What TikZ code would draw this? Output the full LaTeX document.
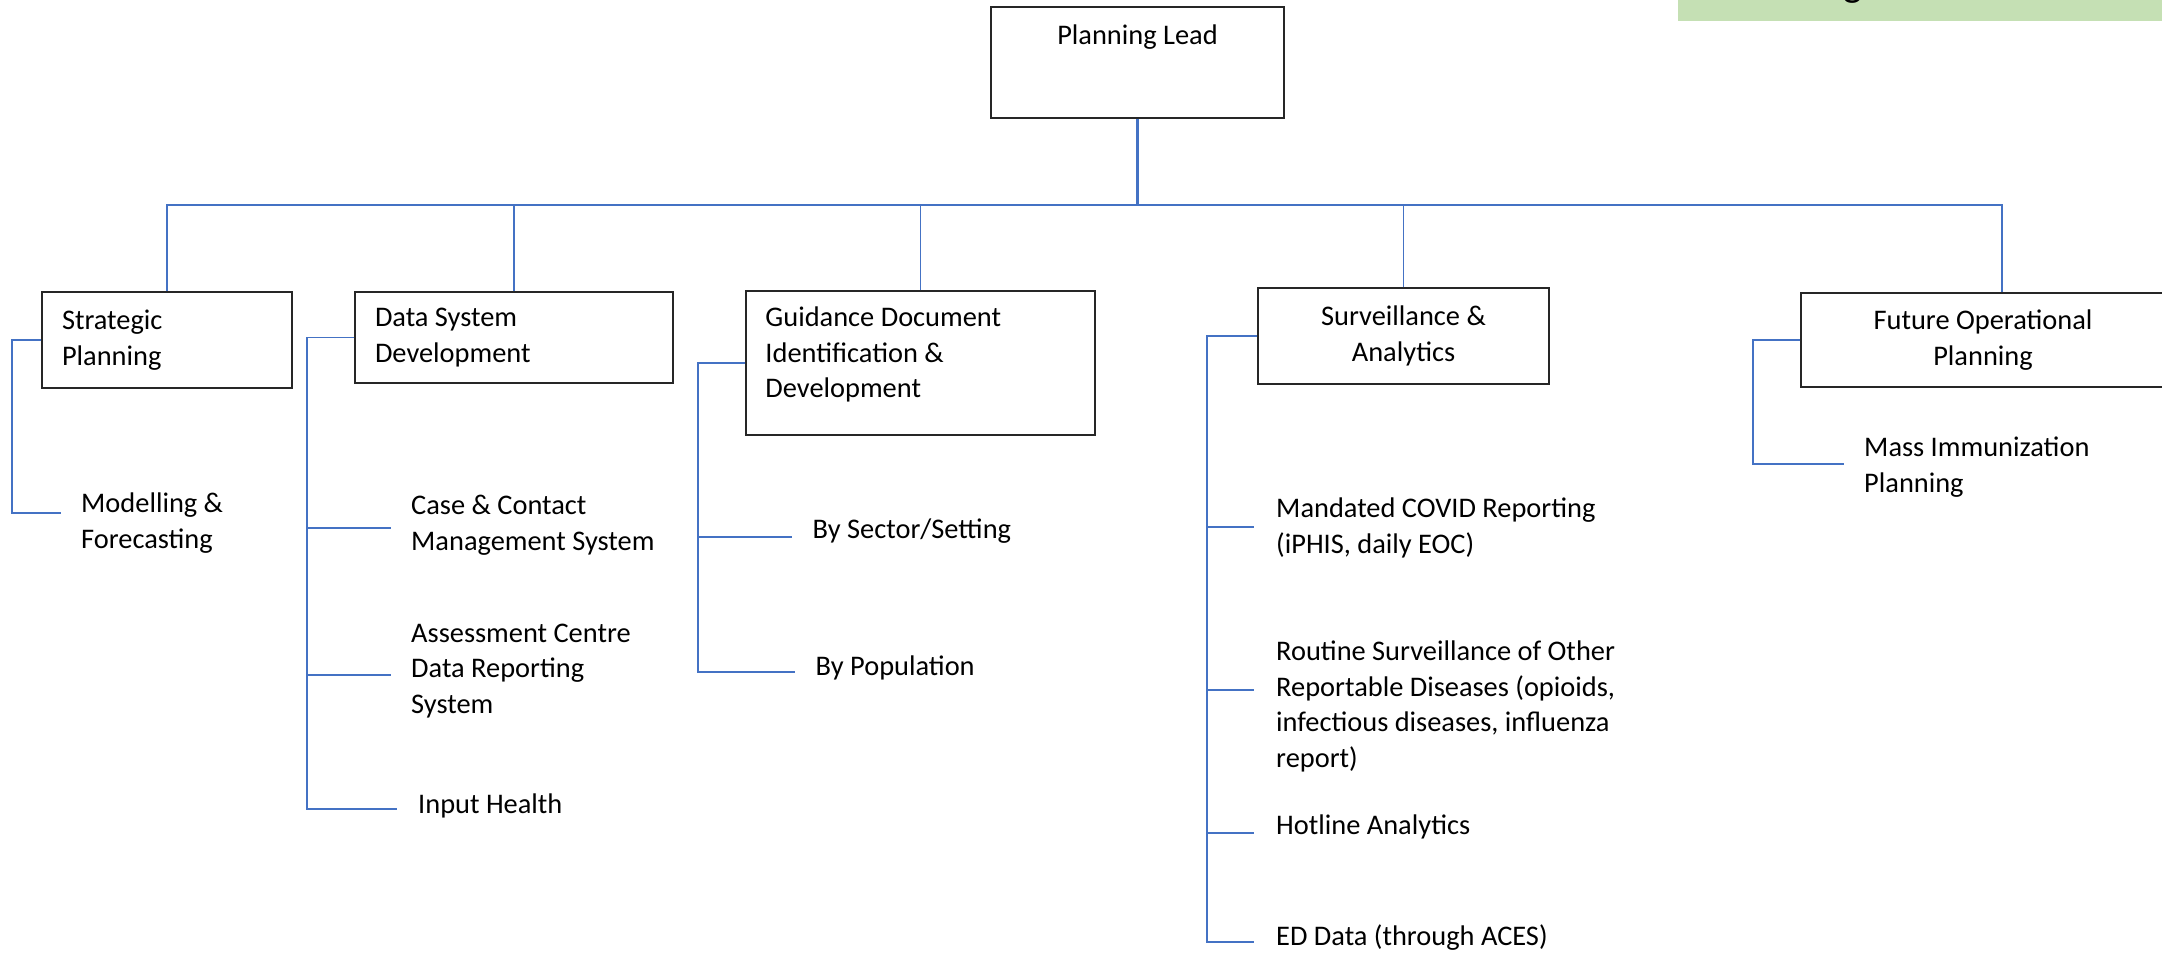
\documentclass[tikz,border=0pt]{standalone}
\usepackage{fontspec}
\setmainfont{Carlito}
\usepackage{xcolor}
\usepackage{tikz}
\usetikzlibrary{positioning,calc}
\definecolor{link-blue}{RGB}{68,114,196}
\definecolor{note-green}{RGB}{197,224,180}

\begin{document}
\begin{tikzpicture}[
    x=1pt, y=-1pt,
    font=\fontsize{28.4}{35.5}\selectfont,
    box/.style={rectangle, draw=black!85, line width=1.5pt, fill=white, inner xsep=20pt, inner ysep=0pt, align=flush left},
    centerbox/.style={box, align=flush center},
    leaf/.style={anchor=base west, align=left, inner sep=0pt},
    link/.style={draw=link-blue, line width=1.6pt},
    lead-link/.style={draw=link-blue, line width=2.7pt}
]
\useasboundingbox (0,0) rectangle (2162,953);
\clip (0,0) rectangle (2162,953);

% Header strip
\node[rectangle, fill=note-green, minimum width=500, minimum height=21, anchor=north west, inner sep=0] (header) at (1678,0) {};
\node[anchor=base, font=\fontsize{40}{48}\selectfont, inner sep=0] (header-text) at (1853,-3) {g};

% Top
\node[box, minimum width=293, minimum height=111] (lead) at (1137.5,62.5) {};
\node[anchor=base, inner sep=0] (lead-title) at ([yshift=-38pt]lead.north) {Planning Lead};

% Second level
\node[box, text width=210, minimum height=96] (strat) at (167,340) {Strategic\\Planning};
\node[box, text width=278, minimum height=91] (dsd) at (514,337.5) {Data System\\Development};
\node[box, minimum width=349, minimum height=144] (guide) at (920.5,363) {};
\node[leaf] (guide-text) at ([xshift=20pt, yshift=-107.3pt]guide.north west) {Guidance Document\\Identification \&\\Development};
\node[centerbox, text width=251, minimum height=96] (surv) at (1403.5,336) {Surveillance \&\\Analytics};
\node[centerbox, text width=324, minimum height=94] (future) at (1983,340) {Future Operational\\Planning};

% Bus
\coordinate (bus) at (1137.5,205);
\draw[lead-link] (lead.south) -- (bus);
\draw[link] (strat.north) |- (bus);
\draw[link] (dsd.north) -- (dsd.north |- bus);
\draw[link] (guide.north) -- (guide.north |- bus);
\draw[link] (surv.north) -- (surv.north |- bus);
\draw[link] ([xshift=19pt]future.north) |- (bus);

% Strategic Planning
\node[leaf] (model) at (81,548) {Modelling \&\\Forecasting};
\coordinate (strat-spine) at (12,513);
\coordinate (model-end) at (61,513);
\draw[link] (strat.west) -| (strat-spine) -- (model-end);

% Data System Development
\node[leaf] (case) at (411,550) {Case \& Contact\\Management System};
\node[leaf] (assess) at (411,713) {Assessment Centre\\Data Reporting\\System};
\node[leaf] (input) at (418,813) {Input Health};
\coordinate (dsd-spine) at (307,809);
\coordinate (case-end) at (391,528);
\coordinate (assess-end) at (391,675);
\coordinate (input-end) at (397,809);
\draw[link] (dsd.west) -| (dsd-spine) -- (input-end);
\draw[link] (case-end -| dsd-spine) -- (case-end);
\draw[link] (assess-end -| dsd-spine) -- (assess-end);

% Guidance Document
\node[leaf] (sector) at (812.5,538) {By Sector/Setting};
\node[leaf] (popn) at (815.5,675) {By Population};
\coordinate (guide-spine) at (698,672);
\coordinate (sector-end) at (792,537);
\coordinate (popn-end) at (795,672);
\draw[link] (guide.west) -| (guide-spine) -- (popn-end);
\draw[link] (sector-end -| guide-spine) -- (sector-end);

% Surveillance & Analytics
\node[leaf] (mandated) at (1276,553) {Mandated COVID Reporting\\(iPHIS, daily EOC)};
\node[leaf] (routine) at (1276,767) {Routine Surveillance of Other\\Reportable Diseases (opioids,\\infectious diseases, influenza\\report)};
\node[leaf] (hotline) at (1276,834) {Hotline Analytics};
\node[leaf] (ed) at (1276,945) {ED Data (through ACES)};
\coordinate (surv-spine) at (1207,942);
\coordinate (mandated-end) at (1254,527);
\coordinate (routine-end) at (1254,690);
\coordinate (hotline-end) at (1254,833);
\coordinate (ed-end) at (1254,942);
\draw[link] (surv.west) -| (surv-spine) -- (ed-end);
\draw[link] (mandated-end -| surv-spine) -- (mandated-end);
\draw[link] (routine-end -| surv-spine) -- (routine-end);
\draw[link] (hotline-end -| surv-spine) -- (hotline-end);

% Future Operational Planning
\node[leaf] (mass) at (1864,492) {Mass Immunization\\Planning};
\coordinate (future-spine) at (1753,464);
\coordinate (mass-end) at (1844,464);
\draw[link] (future.west) -| (future-spine) -- (mass-end);

\end{tikzpicture}
\end{document}
